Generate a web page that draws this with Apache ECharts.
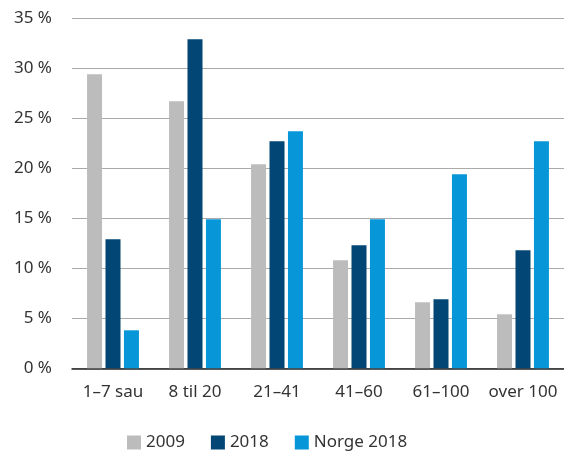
<!DOCTYPE html>
<html><head><meta charset="utf-8">
<script src="https://cdn.jsdelivr.net/npm/echarts@6/dist/echarts.min.js"></script>
<style>html,body{margin:0;padding:0;background:#fff}#c{width:564px;height:452px}</style>
</head><body><div id="c"></div>
<script>
const categories = ['1–7 sau', '8 til 20', '21–41', '41–60', '61–100', 'over 100'];
const s2009 = [29.4, 26.7, 20.4, 10.8, 6.6, 5.4];
const s2018 = [12.9, 32.9, 22.7, 12.3, 6.9, 11.8];
const sNorge2018 = [3.8, 14.9, 23.7, 14.9, 19.4, 22.7];
const yTicks = [0, 5, 10, 15, 20, 25, 30, 35];
const seriesNames = ['2009', '2018', 'Norge 2018'];

const font = '"Source Sans Pro","Noto Sans",sans-serif';
const chart = echarts.init(document.getElementById('c'), null, {renderer: 'canvas'});
chart.setOption({
  animation: false,
  textStyle: {fontFamily: font},
  color: ['#bdbcbc', '#024675', '#0796d8'],
  grid: {left: 72, right: 0, top: 18.3, bottom: 83.7},
  legend: {
    top: 429, left: 122,
    itemWidth: 14, itemHeight: 14, itemGap: 26,
    icon: 'rect',
    textStyle: {fontSize: 17, color: '#333', fontFamily: font},
    data: seriesNames
  },
  xAxis: {
    type: 'category', data: categories,
    axisTick: {show: false},
    axisLine: {lineStyle: {color: '#222', width: 1.5}},
    axisLabel: {fontSize: 17, color: '#333', margin: 15, fontFamily: font, interval: 0}
  },
  yAxis: {
    type: 'value', min: yTicks[0], max: yTicks[yTicks.length - 1], interval: 5,
    axisLabel: {fontSize: 17, color: '#333', margin: 20, fontFamily: font, formatter: v => v + ' %'},
    splitLine: {lineStyle: {color: '#aaa', width: 1}},
    axisLine: {show: false}, axisTick: {show: false}
  },
  series: [
    {name: seriesNames[0], type: 'bar', data: s2009, barWidth: 15, barGap: '23%'},
    {name: seriesNames[1], type: 'bar', data: s2018, barWidth: 15, barGap: '23%'},
    {name: seriesNames[2], type: 'bar', data: sNorge2018, barWidth: 15, barGap: '23%'}
  ]
});
</script></body></html>
